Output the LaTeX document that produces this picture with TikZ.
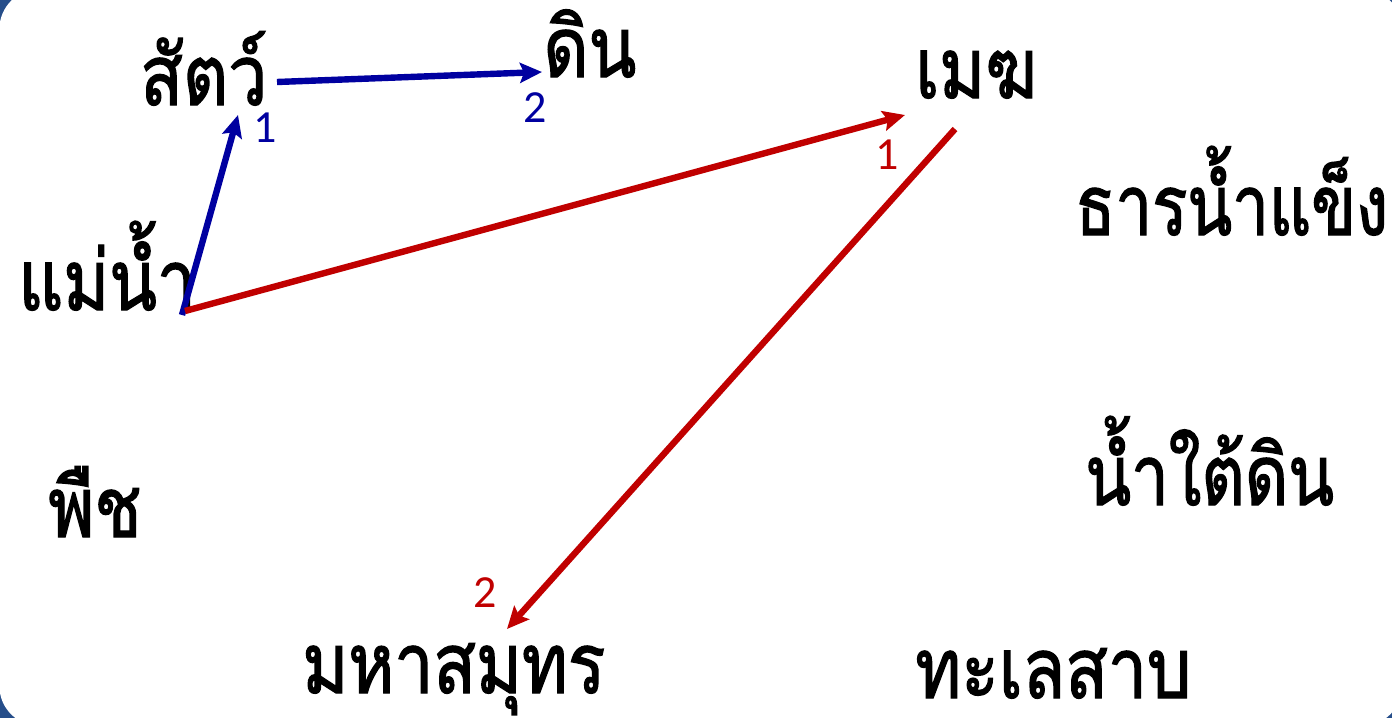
\documentclass[tikz,border=0pt]{standalone}
\usepackage{fontspec}
\newfontfamily\thaifont[Script=Thai,FakeBold=1.6,FakeStretch=0.83]{Loma}
\setmainfont{Carlito}
\usetikzlibrary{arrows.meta}
\definecolor{navy}{RGB}{38,78,138}
\definecolor{ablue}{RGB}{0,0,160}
\definecolor{ared}{RGB}{192,0,0}
\tikzset{
  word/.style={anchor=base west, inner sep=0pt, font=\thaifont\fontsize{42}{50}\selectfont},
  num/.style={inner sep=0pt, font=\fontsize{23}{27}\selectfont},
  link/.style={line width=3.2pt, -{Stealth[length=11pt,width=10pt,inset=2pt]}},
}
\begin{document}
\begin{tikzpicture}[x=0.5pt,y=-0.5pt]
\useasboundingbox (0,0) rectangle (1392,718);
\fill[navy] (0,0) rectangle (1392,718);
\fill[white, rounded corners=20pt] (-0.6,-10.9) rectangle (1402,726);
% words
\node[word] (satw) at (140,105) {สัตว์};
\node[word] (din) at (543,77) {ดิน};
\node[word] (mek) at (915,98) {เมฆ};
\node[word] (tharn) at (1075,235) {\scalebox{0.94}[1]{ธารน้ำแข็ง}};
\node[word] (mae) at (18,310) {แม่น้ำ};
\node[word] (pue) at (48,537) {พืช};
\node[word] (nam) at (1085,505) {\scalebox{0.96}[1]{น้ำใต้ดิน}};
\node[word] (maha) at (302,693) {มหาสมุทร};
\node[word] (tale) at (915,698) {ทะเลสาบ};
% connector end points
\coordinate (b1s) at (182,315);
\coordinate (b1e) at (238,115);
\coordinate (b2s) at (277,82);
\coordinate (b2e) at (542,72);
\coordinate (r1s) at (185,311);
\coordinate (r1e) at (905,115);
\coordinate (r2s) at (955,129);
\coordinate (r2e) at (507,629);
\draw[link, ablue] (b1s) -- (b1e);
\draw[link, ablue] (b2s) -- (b2e);
\draw[link, ared] (r1s) -- (r1e);
\draw[link, ared] (r2s) -- (r2e);
% labels
\node[num, text=ablue] (lb1) at (265,128) {1};
\node[num, text=ablue] (lb2) at (535,108) {2};
\node[num, text=ared] (lr1) at (887,155) {1};
\node[num, text=ared] (lr2) at (485,593) {2};
\end{tikzpicture}
\end{document}
